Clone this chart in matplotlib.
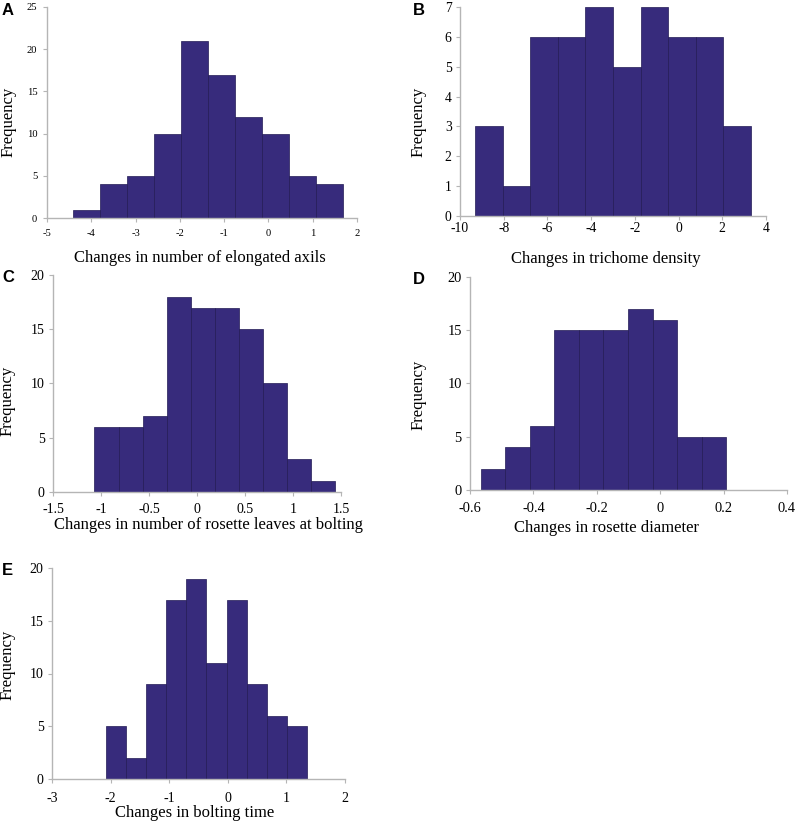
import numpy as np
import matplotlib
matplotlib.use("Agg")
import matplotlib.pyplot as plt

# ---- data ----
a_start, a_width = -4.42, 0.611
a_counts = [1, 4, 5, 10, 21, 17, 12, 10, 5, 4]
a_xticks = [-5, -4, -3, -2, -1, 0, 1, 2]
a_xlabels = ["-5", "-4", "-3", "-2", "-1", "0", "1", "2"]
a_yticks = [0, 5, 10, 15, 20, 25]

b_start, b_width = -9.31, 1.262
b_counts = [3, 1, 6, 6, 7, 5, 7, 6, 6, 3]
b_xticks = [-10, -8, -6, -4, -2, 0, 2, 4]
b_xlabels = ["-10", "-8", "-6", "-4", "-2", "0", "2", "4"]
b_yticks = [0, 1, 2, 3, 4, 5, 6, 7]

c_start, c_width = -1.068, 0.2508
c_counts = [6, 6, 7, 18, 17, 17, 15, 10, 3, 1]
c_xticks = [-1.5, -1, -0.5, 0, 0.5, 1, 1.5]
c_xlabels = ["-1.5", "-1", "-0.5", "0", "0.5", "1", "1.5"]
c_yticks = [0, 5, 10, 15, 20]

d_start, d_width = -0.566, 0.0774
d_counts = [2, 4, 6, 15, 15, 15, 17, 16, 5, 5]
d_xticks = [-0.6, -0.4, -0.2, 0, 0.2, 0.4]
d_xlabels = ["-0.6", "-0.4", "-0.2", "0", "0.2", "0.4"]
d_yticks = [0, 5, 10, 15, 20]

e_start, e_width = -2.08, 0.343
e_counts = [5, 2, 9, 17, 19, 11, 17, 9, 6, 5]
e_xticks = [-3, -2, -1, 0, 1, 2]
e_xlabels = ["-3", "-2", "-1", "0", "1", "2"]
e_yticks = [0, 5, 10, 15, 20]

xtitles = ["Changes in number of elongated axils",
           "Changes in trichome density",
           "Changes in number of rosette leaves at bolting",
           "Changes in rosette diameter",
           "Changes in bolting time"]
letters = ["A", "B", "C", "D", "E"]

W, H = 797, 824
fig = plt.figure(figsize=(W / 100, H / 100), dpi=100)
plt.rcParams['font.family'] = ['Liberation Serif', 'DejaVu Serif']

BAR = "#372b7c"
EDGE = "#221a55"
SPINE = "#b5b5b5"

def px_axes(l, r, t, b):
    return fig.add_axes([l / W, 1 - b / H, (r - l) / W, (b - t) / H])

panels = [
    dict(box=(47, 357, 7, 218), start=a_start, width=a_width, counts=a_counts,
         xt=a_xticks, xl=a_xlabels, yt=a_yticks, fs=7.6, xpad=5, ypad=4,
         xlab=(200, 258), ylab=(9, 122), let=(2, 3)),
    dict(box=(460, 766, 7, 216), start=b_start, width=b_width, counts=b_counts,
         xt=b_xticks, xl=b_xlabels, yt=b_yticks, fs=9.8, xpad=1, ypad=3,
         xlab=(606, 259), ylab=(419, 122), let=(413, 3)),
    dict(box=(53, 341, 275, 492), start=c_start, width=c_width, counts=c_counts,
         xt=c_xticks, xl=c_xlabels, yt=c_yticks, fs=10, xpad=5, ypad=3,
         xlab=(208, 525), ylab=(8, 401), let=(2, 270)),
    dict(box=(470, 787, 277, 490), start=d_start, width=d_width, counts=d_counts,
         xt=d_xticks, xl=d_xlabels, yt=d_yticks, fs=10.4, xpad=6, ypad=3,
         xlab=(607, 528), ylab=(419, 395), let=(413, 272)),
    dict(box=(52, 345, 568, 779), start=e_start, width=e_width, counts=e_counts,
         xt=e_xticks, xl=e_xlabels, yt=e_yticks, fs=10, xpad=6, ypad=3,
         xlab=(195, 813), ylab=(8, 665), let=(2, 563)),
]

for i, p in enumerate(panels):
    ax = px_axes(*p["box"])
    counts = np.array(p["counts"])
    edges = p["start"] + p["width"] * np.arange(len(counts))
    ax.bar(edges, counts, width=p["width"], align="edge",
           color=BAR, edgecolor=EDGE, linewidth=0.5)
    ax.set_xlim(p["xt"][0], p["xt"][-1])
    ax.set_ylim(p["yt"][0], p["yt"][-1])
    ax.set_xticks(p["xt"])
    ax.set_xticklabels(p["xl"])
    ax.set_yticks(p["yt"])
    ax.set_yticklabels([str(v) for v in p["yt"]])
    for s in ["top", "right"]:
        ax.spines[s].set_visible(False)
    for s in ["left", "bottom"]:
        ax.spines[s].set_color(SPINE)
        ax.spines[s].set_linewidth(1.0)
    ax.tick_params(axis="both", direction="out", length=3, width=0.8,
                   color=SPINE, labelsize=p["fs"], labelcolor="black")
    ax.tick_params(axis="x", pad=p["xpad"])
    ax.tick_params(axis="y", pad=p["ypad"])
    xc, yc = p["xlab"]
    fig.text(xc / W, 1 - yc / H, xtitles[i], ha="center", va="center",
             fontsize=12)
    xc, yc = p["ylab"]
    fig.text(xc / W, 1 - yc / H, "Frequency", ha="center", va="center",
             rotation=90, fontsize=12)
    lx, ly = p["let"]
    fig.text(lx / W, 1 - ly / H, letters[i], ha="left", va="top",
             fontsize=12, fontweight="bold", family=["Liberation Sans", "DejaVu Sans"])

fig.savefig("out.png", dpi=100)
